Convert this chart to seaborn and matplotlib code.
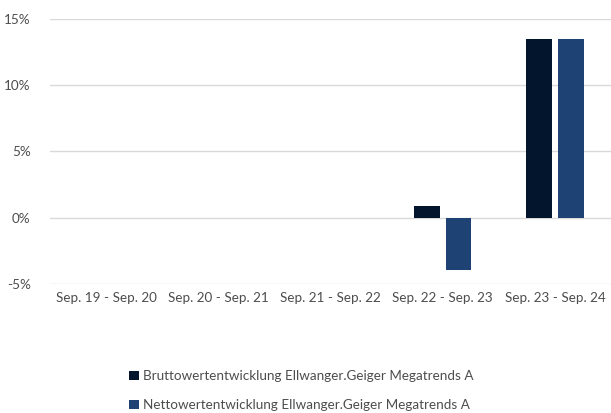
import numpy as np
import pandas as pd
import matplotlib
matplotlib.use("Agg")
import matplotlib.pyplot as plt
import seaborn as sns
from matplotlib.ticker import FuncFormatter

zeitraeume = ['Sep. 19 - Sep. 20', 'Sep. 20 - Sep. 21', 'Sep. 21 - Sep. 22',
              'Sep. 22 - Sep. 23', 'Sep. 23 - Sep. 24']
brutto = [np.nan, np.nan, np.nan, 0.85, 13.5]
netto = [np.nan, np.nan, np.nan, -3.92, 13.5]
serien = ['Bruttowertentwicklung Ellwanger.Geiger Megatrends A',
          'Nettowertentwicklung Ellwanger.Geiger Megatrends A']
farben = ['#03152c', '#1e4274']

sns.set_theme(style="white")
plt.rcParams['font.family'] = ['Lato', 'DejaVu Sans']
textfarbe = '#4d4d4d'

df = pd.DataFrame({
    'zeitraum': zeitraeume * 2,
    'wert': brutto + netto,
    'serie': [serien[0]] * len(zeitraeume) + [serien[1]] * len(zeitraeume),
})

fig = plt.figure(figsize=(6.11, 4.13), dpi=100)
ax = fig.add_axes([50/611, 1 - 284/413, 561/611, 265/413])

sns.barplot(data=df, x='zeitraum', y='wert', hue='serie', palette=farben,
            saturation=1, width=0.57, gap=0.2, linewidth=0, ax=ax, legend=True)

ax.set_ylim(-5, 15)
ax.set_yticks([-5, 0, 5, 10, 15])
ax.yaxis.set_major_formatter(FuncFormatter(lambda v, p: f'{v:.0f}%'))
ax.grid(axis='y', color='#d9d9d9', linewidth=1)
ax.set_axisbelow(True)
for s in ax.spines.values():
    s.set_visible(False)
ax.set_xlabel('')
ax.set_ylabel('')
ax.tick_params(axis='both', length=0, labelsize=9.7, colors=textfarbe)
ax.tick_params(axis='y', pad=14)
ax.tick_params(axis='x', pad=6)
ax.set_xlim(-0.5, 4.5)

handles, labels = ax.get_legend_handles_labels()
ax.get_legend().remove()
fig.legend(handles, labels, loc='upper left', bbox_to_anchor=(117/611, 1 - 358/413),
           frameon=False, fontsize=9.7, labelcolor=textfarbe, handlelength=0.7,
           handleheight=0.7, handletextpad=0.3, labelspacing=1.25)

fig.savefig('out.png', dpi=100)
